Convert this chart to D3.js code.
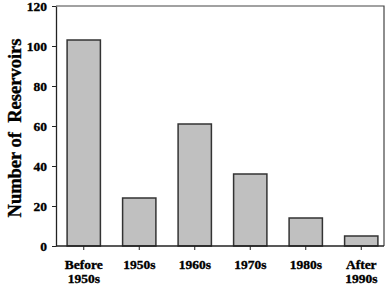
<!DOCTYPE html>
<html>
<head>
<meta charset="utf-8">
<script src="https://cdn.jsdelivr.net/npm/d3@7"></script>
<style>
  body { margin: 0; background: #fff; }
  svg text { font-family: "Liberation Serif", "Times New Roman", serif; font-weight: bold; }
</style>
</head>
<body>
<svg id="chart" width="390" height="285"></svg>
<script>
// reservoir counts by construction period
const periods = ['Before 1950s', '1950s', '1960s', '1970s', '1980s', 'After 1990s'];
const periodLines = [['Before', '1950s'], ['1950s'], ['1960s'], ['1970s'], ['1980s'], ['After', '1990s']];
const counts = [103, 24, 61, 36, 14, 5];
const yTicks = [0, 20, 40, 60, 80, 100, 120];

const svg = d3.select('#chart');
const plotLeft = 56, plotRight = 384, plotTop = 6, plotBottom = 246;

const x = d3.scaleBand()
  .domain(periods)
  .range([plotLeft, 389])
  .paddingInner(0.4)
  .paddingOuter(0.2);

const y = d3.scaleLinear()
  .domain([0, 120])
  .range([plotBottom, plotTop]);

// frame (top + right)
svg.append('path')
  .attr('d', `M${plotLeft},${plotTop}H${plotRight}V${plotBottom}`)
  .attr('fill', 'none')
  .attr('stroke', '#444')
  .attr('stroke-width', 1.2);

// bars
svg.append('g').selectAll('rect')
  .data(counts)
  .enter().append('rect')
  .attr('x', (d, i) => x(periods[i]))
  .attr('y', d => y(d))
  .attr('width', x.bandwidth())
  .attr('height', d => plotBottom - y(d))
  .attr('fill', '#c0c0c0')
  .attr('stroke', '#333')
  .attr('stroke-width', 1.5);

function boldText(sel, size) {
  sel.attr('font-size', size)
    .attr('fill', '#000')
    .attr('stroke', '#000')
    .attr('stroke-width', 0.35)
    .style('font-family', '"Liberation Serif", "Times New Roman", serif')
    .style('font-weight', 'bold');
}

// y axis
const yAxis = svg.append('g')
  .attr('transform', `translate(${plotLeft},0)`)
  .call(d3.axisLeft(y).tickValues(yTicks).tickSize(4).tickPadding(5).tickSizeOuter(0));
yAxis.select('.domain').attr('stroke', '#222').attr('stroke-width', 1.3);
yAxis.selectAll('.tick line').attr('stroke', '#222');
yAxis.selectAll('.tick text').call(boldText, 13.5);

// x axis
const xAxis = svg.append('g')
  .attr('transform', `translate(0,${plotBottom})`)
  .call(d3.axisBottom(x).tickSize(4).tickSizeOuter(0).tickFormat(''));
xAxis.select('.domain').attr('d', `M${plotLeft},0H${plotRight}`).attr('stroke', '#222').attr('stroke-width', 1.3);
xAxis.selectAll('.tick line').attr('stroke', '#222');

xAxis.selectAll('.tick').each(function (d, i) {
  const t = d3.select(this).select('text')
    .attr('y', 0)
    .attr('dy', null)
    .call(boldText, 13.5);
  periodLines[i].forEach((line, j) => {
    t.append('tspan')
      .attr('x', 0)
      .attr('y', 23 + j * 13.5)
      .text(line);
  });
});

// y axis title
svg.append('text')
  .attr('transform', `translate(21,128) rotate(-90)`)
  .attr('text-anchor', 'middle')
  .call(boldText, 18.5)
  .style('white-space', 'pre')
  .text('Number of  Reservoirs');
</script>
</body>
</html>
